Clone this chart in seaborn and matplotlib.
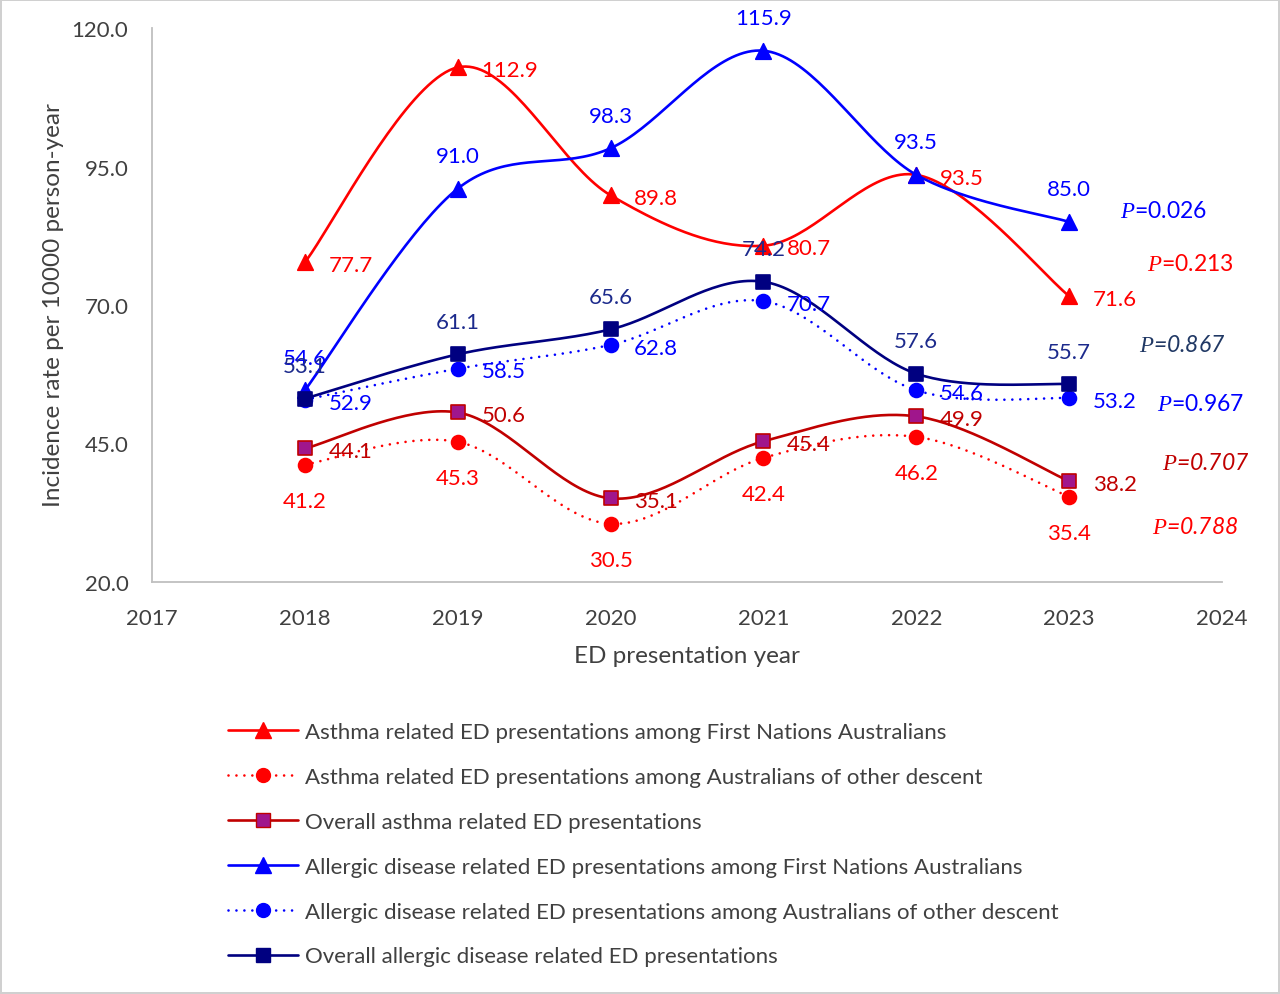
import numpy as np
import pandas as pd
import matplotlib
matplotlib.use("Agg")
import matplotlib.pyplot as plt
from matplotlib.lines import Line2D
import seaborn as sns

# ---------------- data ----------------
years = [2018, 2019, 2020, 2021, 2022, 2023]
asthma_fn = [77.7, 112.9, 89.8, 80.7, 93.5, 71.6]
asthma_other = [41.2, 45.3, 30.5, 42.4, 46.2, 35.4]
asthma_overall = [44.1, 50.6, 35.1, 45.4, 49.9, 38.2]
allergic_fn = [54.6, 91.0, 98.3, 115.9, 93.5, 85.0]
allergic_other = [52.9, 58.5, 62.8, 70.7, 54.6, 53.2]
allergic_overall = [53.1, 61.1, 65.6, 74.2, 57.6, 55.7]

series_names = [
    "Asthma related ED presentations among First Nations Australians",
    "Asthma related ED presentations among Australians of other descent",
    "Overall asthma related ED presentations",
    "Allergic disease related ED presentations among First Nations Australians",
    "Allergic disease related ED presentations among Australians of other descent",
    "Overall allergic disease related ED presentations",
]
p_values = ["0.026", "0.213", "0.867", "0.967", "0.707", "0.788"]

x_ticks = [2017, 2018, 2019, 2020, 2021, 2022, 2023, 2024]
y_ticks = [20.0, 45.0, 70.0, 95.0, 120.0]

# ---------------- style ----------------
sns.set_theme(style="white")
plt.rcParams["font.family"] = ["Lato", "DejaVu Sans"]
plt.rcParams["mathtext.fontset"] = "custom"
plt.rcParams["mathtext.it"] = "Liberation Serif:italic"
plt.rcParams["mathtext.rm"] = "Lato"

FS_TICK = 16
FS_LBL = 16
FS_TITLE = 17.5
FS_LEG = 16
FS_P = 16.5
TXT = "#404040"
RED = "#FF0000"
DRED = "#C00000"
BLUE = "#0000FF"
NAVY = "#000080"
NAVY_LBL = "#1C2A8C"
PURPLE = "#A0168C"


def excel_smooth(xv, yv, n=40):
    """Excel-style smoothed line (cubic Bezier with 1/6 tangents)."""
    P = np.column_stack([xv, yv]).astype(float)
    m = len(P)
    out = []
    for i in range(m - 1):
        p0 = P[i - 1] if i > 0 else P[i]
        p1 = P[i]
        p2 = P[i + 1]
        p3 = P[i + 2] if i + 2 < m else P[i + 1]
        c1 = p1 + (p2 - p0) / 6.0
        c2 = p2 - (p3 - p1) / 6.0
        t = np.linspace(0, 1, n)[:, None]
        seg = ((1 - t) ** 3) * p1 + 3 * ((1 - t) ** 2) * t * c1 + 3 * (1 - t) * t ** 2 * c2 + t ** 3 * p2
        out.append(seg if i == 0 else seg[1:])
    s = np.vstack(out)
    return s[:, 0], s[:, 1]


fig = plt.figure(figsize=(12.8, 9.95), dpi=100)
fig.patch.set_facecolor("white")
fig.patch.set_edgecolor("#D0D0D0")
fig.patch.set_linewidth(1.5)
ax = fig.add_axes([152 / 1280, 1 - 583 / 995, (1222 - 152) / 1280, (583 - 29) / 995])

dot = (0, (0.01, 3.0))
specs = [
    # values, line color, linestyle, marker, marker face, marker edge, msize, label color, label pos
    (asthma_fn, RED, "-", "^", RED, RED, 125, RED, "right"),
    (asthma_other, RED, dot, "o", RED, RED, 100, RED, "below"),
    (asthma_overall, DRED, "-", "s", PURPLE, DRED, 115, DRED, "right"),
    (allergic_fn, BLUE, "-", "^", BLUE, BLUE, 125, BLUE, "above"),
    (allergic_other, BLUE, dot, "o", BLUE, BLUE, 100, BLUE, "right"),
    (allergic_overall, NAVY, "-", "s", NAVY, NAVY, 115, NAVY_LBL, "above"),
]

handles = []
for k, (vals, lc, ls, mk, mf, me, ms, tc, pos) in enumerate(specs):
    sx, sy = excel_smooth(years, vals)
    df_s = pd.DataFrame({"x": sx, "y": sy})
    sns.lineplot(data=df_s, x="x", y="y", ax=ax, color=lc, sort=False, estimator=None,
                 linewidth=1.9, zorder=2 + k)
    ln = ax.lines[-1]
    ln.set_linestyle(ls)
    ln.set_dash_capstyle("round")
    df_p = pd.DataFrame({"x": years, "y": vals})
    sns.scatterplot(data=df_p, x="x", y="y", ax=ax, marker=mk, s=ms, color=mf,
                    edgecolor=me, linewidth=1.2, zorder=2 + k, legend=False)
    handles.append(Line2D([0], [0], color=lc, linestyle=ls, linewidth=1.9, dash_capstyle="round",
                          marker=mk, markersize=np.sqrt(ms), markerfacecolor=mf,
                          markeredgecolor=me))
    for xv, yv in zip(years, vals):
        if pos == "right":
            ax.annotate(f"{yv:.1f}", (xv, yv), xytext=(17, -2), textcoords="offset points",
                        ha="left", va="center", color=tc, fontsize=FS_LBL, zorder=20)
        elif pos == "below":
            ax.annotate(f"{yv:.1f}", (xv, yv), xytext=(0, -26), textcoords="offset points",
                        ha="center", va="center", color=tc, fontsize=FS_LBL, zorder=20)
        else:
            ax.annotate(f"{yv:.1f}", (xv, yv), xytext=(0, 23.5), textcoords="offset points",
                        ha="center", va="center", color=tc, fontsize=FS_LBL, zorder=20)

ax.set_xlim(2017, 2024)
ax.set_ylim(20, 120)
ax.set_xticks(x_ticks)
ax.set_xticklabels([str(v) for v in x_ticks])
ax.set_yticks(y_ticks)
ax.set_yticklabels([f"{v:.1f}" for v in y_ticks])
ax.tick_params(axis="both", length=0, labelsize=FS_TICK, labelcolor=TXT)
ax.tick_params(axis="y", pad=17)
ax.tick_params(axis="x", pad=19)
for s in ["top", "right"]:
    ax.spines[s].set_visible(False)
for s in ["left", "bottom"]:
    ax.spines[s].set_color("#BFBFBF")
    ax.spines[s].set_linewidth(1.3)
ax.grid(False)
ax.set_xlabel("ED presentation year", fontsize=FS_TITLE, color=TXT)
ax.set_ylabel("Incidence rate per 10000 person-year", fontsize=FS_TITLE, color=TXT)
ax.yaxis.set_label_coords(-(152 - 64) / 1070, (583 - 305) / 554)
ax.xaxis.set_label_coords((687 - 152) / 1070, -(646 - 583) / 554)

# P values (figure pixel positions, left edge / center y)
p_specs = [
    (p_values[0], BLUE, False, 1120, 211),
    (p_values[1], RED, False, 1147, 265),
    (p_values[2], "#203864", True, 1139, 346),
    (p_values[3], BLUE, False, 1157, 405),
    (p_values[4], DRED, True, 1162, 464),
    (p_values[5], RED, True, 1152, 528),
]
for val, col, ital, px, py in p_specs:
    fig.text(px / 1280, 1 - py / 995, r"$P$" + "=" + val, color=col, fontsize=FS_P,
             style="italic" if ital else "normal", ha="left", va="center")

leg = fig.legend(handles, series_names, loc="upper left",
                 bbox_to_anchor=(228 / 1280, 1 - 723 / 995), frameon=False,
                 fontsize=FS_LEG, handlelength=3.15, handletextpad=0.3, labelspacing=1.12,
                 borderpad=0, borderaxespad=0, numpoints=1)
for t in leg.get_texts():
    t.set_color(TXT)

fig.savefig("out.png", dpi=100, facecolor="white", edgecolor=fig.patch.get_edgecolor())
